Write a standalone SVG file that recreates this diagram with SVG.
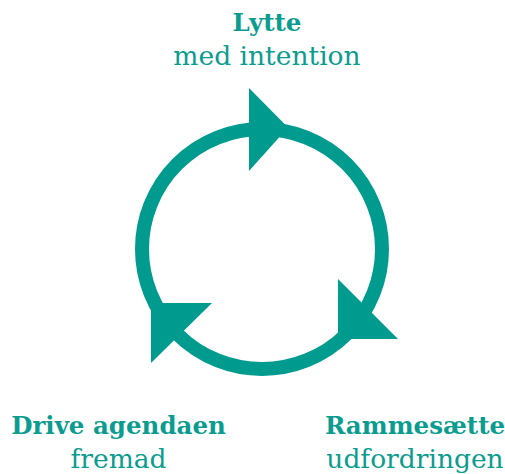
<svg xmlns="http://www.w3.org/2000/svg" width="505" height="474" viewBox="0 0 505 474">
<style>
text{font-family:"DejaVu Serif","Liberation Serif",serif;font-size:26.5px;fill:#0b9c90;text-anchor:middle}
.b{font-weight:bold;font-size:24.5px}
.ah{fill:#009b8f}
</style>
<rect width="505" height="474" fill="#fff"/>
<g id="connectors">
<circle cx="262" cy="249" r="120" fill="none" stroke="#009b8f" stroke-width="14"/>
<polygon class="ah" points="249,88 288,127.5 249,171"/>
<polygon class="ah" points="338,279 398,339 338,339"/>
<polygon class="ah" points="151,363 151,303 212,303"/>
</g>
<g id="lytte"><text class="b" x="267" y="31">Lytte</text><text x="267" y="65">med intention</text></g>
<g id="drive"><text class="b" x="118.5" y="434">Drive agendaen</text><text x="118.5" y="468">fremad</text></g>
<g id="ramme"><text class="b" x="415" y="434">Rammesætte</text><text x="415" y="468">udfordringen</text></g>
</svg>
